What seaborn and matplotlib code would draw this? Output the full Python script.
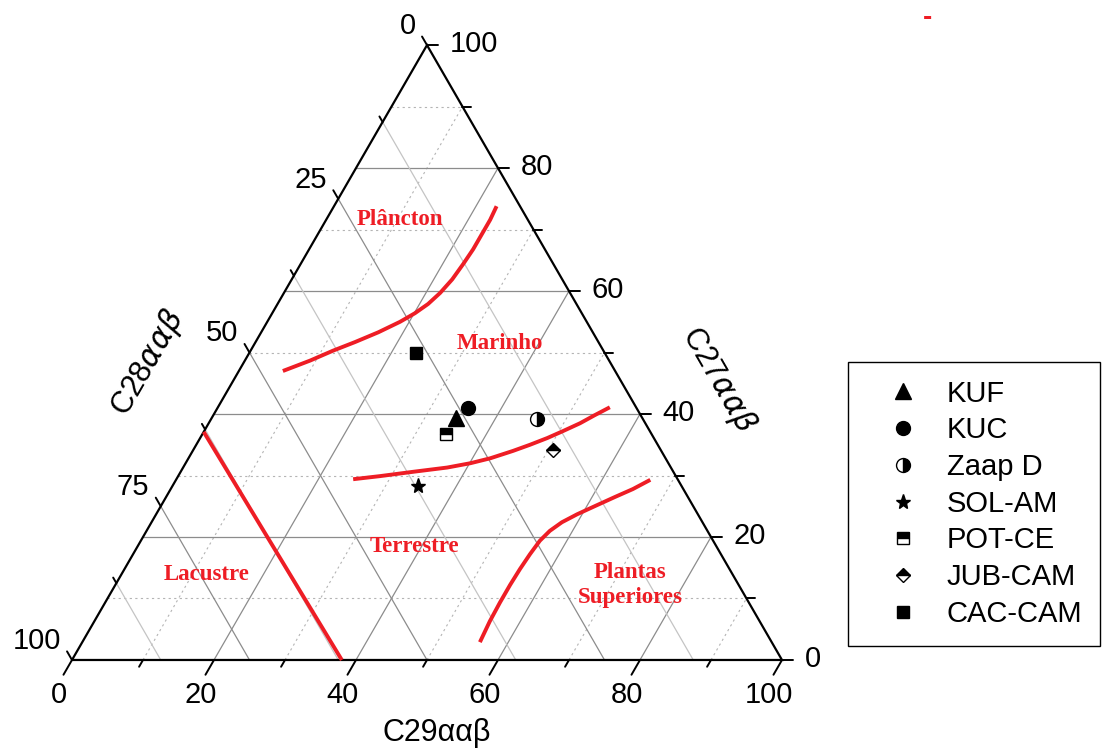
import numpy as np
import pandas as pd
import matplotlib
matplotlib.use('Agg')
import matplotlib.pyplot as plt
import seaborn as sns

# sample compositions (%)
samples = ['KUF', 'KUC', 'Zaap D', 'SOL-AM', 'POT-CE', 'JUB-CAM', 'CAC-CAM']
c27 = [39.4, 41.0, 39.2, 28.3, 36.8, 34.1, 50.0]
c28 = [26.2, 23.7, 14.9, 37.1, 28.9, 15.2, 26.5]
c29 = [34.4, 35.3, 45.9, 34.6, 34.3, 50.7, 23.5]

# environment boundaries (C27 %, C29 %)
plancton_c27 = [47.0, 48.7, 50.3, 51.7, 53.3, 55.0, 56.4, 57.9, 59.7, 61.9, 64.4, 66.8, 69.3, 71.6, 73.8]
plancton_c29 = [6.2, 9.2, 11.6, 14.0, 16.5, 18.7, 20.1, 21.2, 22.0, 22.6, 22.9, 23.1, 23.1, 23.1, 22.9]
marinho_c27 = [29.4, 29.9, 30.6, 31.3, 32.0, 32.8, 34.0, 35.0, 36.1, 37.2, 38.5, 39.8, 41.1]
marinho_c29 = [24.9, 28.4, 32.7, 37.2, 40.1, 42.5, 45.1, 47.0, 48.9, 50.5, 52.3, 53.7, 55.2]
plantas_c27 = [2.9, 6.3, 9.4, 12.2, 14.8, 17.2, 19.4, 21.0, 22.4, 23.7, 25.0, 26.5, 27.8, 29.3]
plantas_c29 = [56.0, 55.7, 55.6, 55.6, 55.7, 55.9, 56.2, 56.8, 57.8, 59.3, 61.1, 63.2, 65.1, 66.8]
lacustre_c27 = [37.1, 0.0]
lacustre_c29 = [0.0, 38.0]

# environment names, placed at (C27, C29)
regions = ['Plâncton', 'Marinho', 'Terrestre', 'Lacustre', 'Plantas\nSuperiores']
region_c27 = [71.6, 51.5, 18.4, 13.9, 12.2]
region_c29 = [10.4, 34.5, 39.1, 12.0, 72.5]

c29_ticks = [0, 20, 40, 60, 80, 100]
c27_ticks = [0, 20, 40, 60, 80, 100]
c28_ticks = [0, 25, 50, 75, 100]

RED = '#ee1d25'
SQ = np.sqrt(3) / 2


def tern(a27, a29):
    """C27/C29 percentages to cartesian coords of the triangle."""
    a27 = np.asarray(a27, dtype=float)
    a29 = np.asarray(a29, dtype=float)
    return a29 + a27 / 2, a27 * SQ


sns.set_theme(style='white')
plt.rcParams['font.family'] = ['Liberation Sans', 'DejaVu Sans']
plt.rcParams['text.color'] = 'black'

fig = plt.figure(figsize=(11.02, 7.51), dpi=100)
ax = fig.add_axes([0, 0, 1, 1])

# grid
for v in range(10, 100, 10):
    major = v % 20 == 0
    style = dict(color='#8c8c8c', lw=0.9, ls='-') if major else dict(color='#b4b4b4', lw=0.8, ls=(0, (2, 3)))
    ax.plot(*tern([v, v], [0, 100 - v]), zorder=1, **style)
    ax.plot(*tern([0, 100 - v], [v, v]), zorder=1, **style)
for v in np.arange(12.5, 100, 12.5):
    major = v % 25 == 0
    ax.plot(*tern([100 - v, 0], [0, 100 - v]), color='#8c8c8c' if major else '#c4c4c4', lw=0.9, zorder=1)

# triangle frame
ax.plot(*tern([0, 0, 100, 0], [0, 100, 0, 0]), color='black', lw=1.6, zorder=3, solid_joinstyle='miter')

# ticks and labels
for v in range(0, 101, 10):
    L = 2.4 if v % 20 == 0 else 1.1
    x0, y0 = tern(0, v)
    ax.plot([x0, x0 - 0.5 * L], [y0, y0 - SQ * L], color='black', lw=1.4, zorder=3)
    x0, y0 = tern(v, 100 - v)
    L = 1.6 if v % 20 == 0 else 1.2
    ax.plot([x0, x0 + L], [y0, y0], color='black', lw=1.4, zorder=3)
for v in np.arange(0, 101, 12.5):
    L = 1.4 if v % 25 == 0 else 0.9
    x0, y0 = tern(100 - v, 0)
    ax.plot([x0, x0 - 0.5 * L], [y0, y0 + SQ * L], color='black', lw=1.4, zorder=3)

tick_fs = 21
for v in c29_ticks:
    x0, y0 = tern(0, v)
    ax.text(x0 - 1.9, y0 - 4.9, f'{v}', ha='center', va='center', fontsize=tick_fs)
for v in c27_ticks:
    x0, y0 = tern(v, 100 - v)
    ax.text(x0 + 3.2, y0 + 0.2, f'{v}', ha='left', va='center', fontsize=tick_fs)
for v in c28_ticks:
    x0, y0 = tern(100 - v, 0)
    ax.text(x0 - 1.6, y0 + 2.7, f'{v}', ha='right', va='center', fontsize=tick_fs)

ax.text(51.4, -10.3, 'C29ααβ', ha='center', va='center', fontsize=22)
ax.text(10.7, 41.8, r'C28$\alpha\alpha\beta$', ha='center', va='center', fontsize=22, rotation=60)
ax.text(91.0, 39.4, r'C27$\alpha\alpha\beta$', ha='center', va='center', fontsize=22, rotation=-60)

# environment boundaries
bounds = []
for name, a27, a29 in [('plancton', plancton_c27, plancton_c29),
                       ('marinho', marinho_c27, marinho_c29),
                       ('plantas', plantas_c27, plantas_c29),
                       ('lacustre', lacustre_c27, lacustre_c29)]:
    x, y = tern(a27, a29)
    bounds.append(pd.DataFrame({'x': x, 'y': y, 'boundary': name}))
bounds = pd.concat(bounds, ignore_index=True)
sns.lineplot(data=bounds, x='x', y='y', units='boundary', estimator=None, sort=False,
             color=RED, lw=2.8, legend=False, ax=ax, zorder=4,
             solid_joinstyle='round', solid_capstyle='butt')
ax.set_xlim(-10.14, 145.07)
ax.set_ylim(-12.82, 92.96)
ax.axis('off')

for name, a27, a29 in zip(regions, region_c27, region_c29):
    x, y = tern(a27, a29)
    ax.text(x, y, name, ha='center', va='center', color=RED, fontsize=16.5, fontweight='bold',
            family='Liberation Serif', linespacing=1.2)

# samples
styles = {
    'KUF': dict(marker='^', ms=11),
    'KUC': dict(marker='o', ms=10),
    'Zaap D': dict(marker='o', ms=10, fillstyle='right'),
    'SOL-AM': dict(marker='*', ms=11),
    'POT-CE': dict(marker='s', ms=8.5, fillstyle='top'),
    'JUB-CAM': dict(marker='D', ms=7, fillstyle='top'),
    'CAC-CAM': dict(marker='s', ms=8.5),
}
handles = []
for name, a27, a29 in zip(samples, c27, c29):
    x, y = tern(a27, a29)
    h, = ax.plot([x], [y], ls='none', color='black', mec='black', mfc='black',
                 markerfacecoloralt='white', mew=1.0, zorder=5, label=name, **styles[name])
    handles.append(h)

fig.legend(handles=handles, loc='upper left', bbox_to_anchor=(848 / 1102, 1 - 362 / 751),
           bbox_transform=fig.transFigure, borderaxespad=0, frameon=True, fancybox=False,
           edgecolor='black', framealpha=1, fontsize=21, borderpad=0.6, labelspacing=0.30,
           handlelength=2.57, handletextpad=0.22)

# stray red dash in the top right of the original
fig.text(928 / 1102, 1 - 18 / 751, '-', color=RED, fontsize=20, fontweight='bold', ha='center', va='center')

fig.savefig('out.png', dpi=100)
